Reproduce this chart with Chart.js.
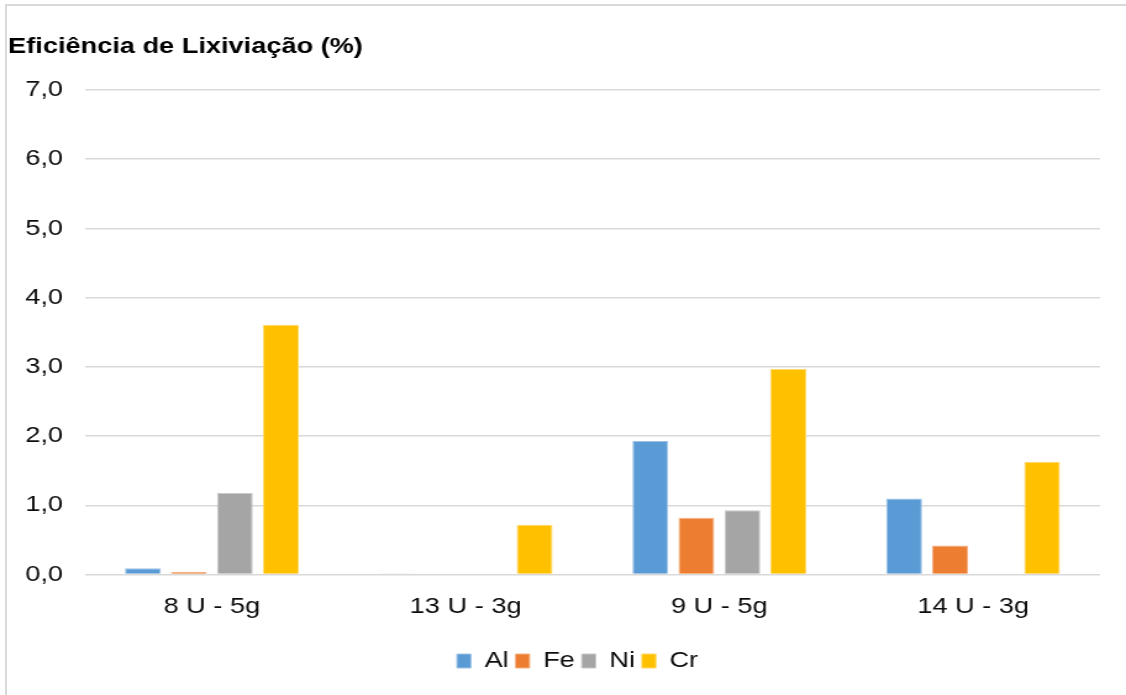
<!DOCTYPE html>
<html>
<head>
<meta charset="utf-8">
<script src="https://cdn.jsdelivr.net/npm/chart.js@4.4.1/dist/chart.umd.min.js"></script>
<style>
  html, body { margin: 0; padding: 0; background: #ffffff; overflow: hidden; width: 1126px; height: 695px; }
  #frame { position: absolute; left: 5px; top: 4px; width: 1200px; height: 800px;
           border-left: 2px solid #d9d9d9; border-top: 2px solid #d9d9d9; }
  #wrap { position: absolute; left: 0; top: 0; width: 912px; height: 695px;
          transform: scaleX(1.23465); transform-origin: 0 0; }
  canvas { display: block; }
</style>
</head>
<body>
<div id="frame"></div>
<div id="wrap"><canvas id="c" width="912" height="695" style="width:912px;height:695px"></canvas></div>
<script>
const categories = ['8 U - 5g', '13 U - 3g', '9 U - 5g', '14 U - 3g'];
const seriesNames = ['Al', 'Fe', 'Ni', 'Cr'];
const alValues = [0.09, 0.01, 1.93, 1.10];
const feValues = [0.04, 0, 0.82, 0.42];
const niValues = [1.18, 0, 0.93, 0];
const crValues = [3.61, 0.72, 2.97, 1.63];
const yTickLabels = ['0,0', '1,0', '2,0', '3,0', '4,0', '5,0', '6,0', '7,0'];
const chartTitle = 'Eficiência de Lixiviação (%)';

const colors = ['#5B9BD5', '#ED7D31', '#A5A5A5', '#FFC000'];
const edgeColors = ['#9cc3e6', '#f4b183', '#c9c9c9', '#ffd966'];
const allValues = [alValues, feValues, niValues, crValues];

Chart.defaults.font.family = "'Liberation Sans', Arial, sans-serif";

const legendShift = {
  id: 'legendShift',
  afterLayout(chart) {
    const lg = chart.legend;
    if (lg) { lg.left += 19.0; lg.right += 19.0; }
  }
};

new Chart(document.getElementById('c'), {
  type: 'bar',
  data: {
    labels: categories,
    datasets: seriesNames.map((n, i) => ({
      label: n,
      data: allValues[i],
      backgroundColor: colors[i],
      borderColor: edgeColors[i],
      borderWidth: 1,
      borderSkipped: 'start',
      barPercentage: 0.78,
      categoryPercentage: 0.725
    }))
  },
  options: {
    responsive: false,
    animation: false,
    devicePixelRatio: 1,
    layout: { padding: { left: 6.6, right: 21.1, top: 0, bottom: 13 } },
    plugins: {
      title: {
        display: true,
        text: chartTitle,
        align: 'start',
        color: '#000000',
        font: { size: 22, weight: 'bold' },
        padding: { top: 33.8, bottom: 29.8 }
      },
      legend: {
        position: 'bottom',
        labels: {
          boxWidth: 11.34,
          boxHeight: 14,
          padding: 5.6,
          color: '#0d0d0d',
          font: { size: 22 }
        }
      },
      tooltip: { enabled: false }
    },
    scales: {
      x: {
        grid: { display: false, drawTicks: false },
        border: { display: false },
        ticks: { color: '#0d0d0d', font: { size: 22 }, padding: 18.8, maxRotation: 0, autoSkip: false },
        afterFit(scale) { scale.height = 69.8; }
      },
      y: {
        min: 0,
        max: 7,
        grid: { color: '#d9d9d9', lineWidth: 1.5, drawTicks: false },
        border: { display: false },
        ticks: {
          stepSize: 1,
          color: '#0d0d0d',
          font: { size: 22 },
          padding: 17.75,
          callback: (v, idx) => yTickLabels[idx]
        },
        afterFit(scale) { scale.width = 62.25; }
      }
    }
  },
  plugins: [legendShift]
});
</script>
</body>
</html>
